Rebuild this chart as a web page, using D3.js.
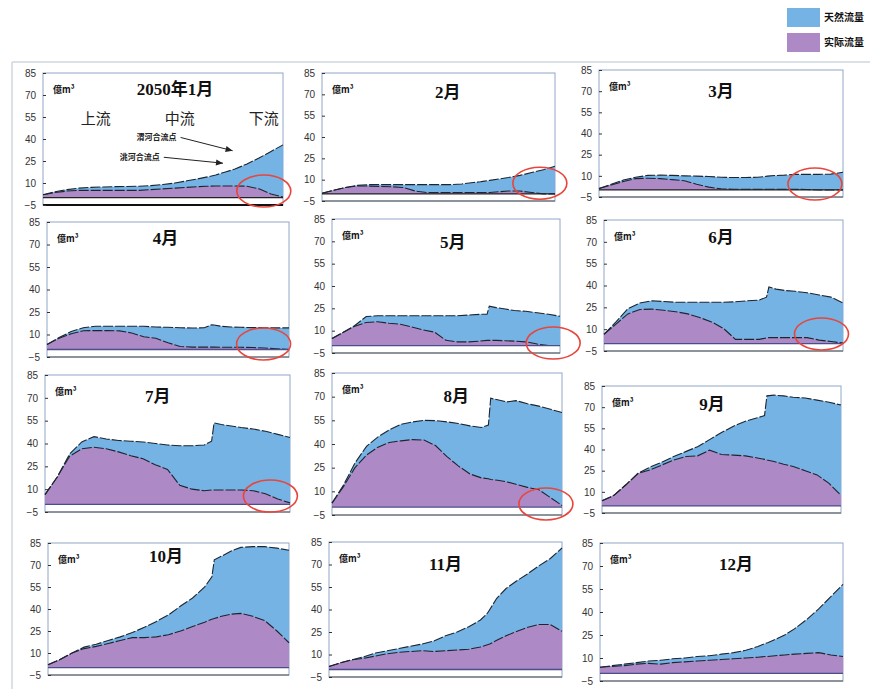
<!DOCTYPE html>
<html>
<head>
<meta charset="utf-8">
<script src="https://cdn.jsdelivr.net/npm/d3@7"></script>
<style>
  body { margin: 0; background: #fff; }
  svg { display: block; }
</style>
</head>
<body>
<div id="chart"></div>
<script>
// distance along the river (upstream -> downstream), shared by all months
const dist = [0, 5, 10, 15, 20, 25, 30, 35, 40, 45, 50, 55, 60, 65, 68, 69, 72, 76, 80, 85, 90, 95, 100];

const months = ["2050年1月", "2月", "3月", "4月", "5月", "6月", "7月", "8月", "9月", "10月", "11月", "12月"];

const yTicks = [-5, 10, 25, 40, 55, 70, 85];

const legendLabels = ["天然流量", "实际流量"];
const reachLabels = ["上流", "中流", "下流"];
const confluenceLabels = ["渭河合流点", "洮河合流点"];
const unitLabel = "億m³";

// natural flow (億m³), one row per month
const naturalFlow = [
  [2, 4, 5.5, 6.5, 7, 7.3, 7.5, 7.6, 7.8, 8.2, 9, 10, 11.5, 13, 14, 14.3, 15.5, 17.5, 19.5, 23, 27, 31.5, 36],
  [0.5, 2.5, 4.5, 6, 6.5, 6.5, 6.5, 6.5, 6.5, 6.5, 6.5, 6.5, 7, 8, 8.5, 8.8, 9.5, 10.5, 11.5, 13, 15, 17, 19.5],
  [1, 4, 7, 9, 10.3, 10.5, 10.3, 10, 9.8, 9.5, 9, 8.8, 8.8, 9, 9.5, 9.8, 10.2, 10.5, 11, 11, 11, 11.2, 12.5],
  [3.4, 8, 12, 14.5, 15.5, 15.5, 15.5, 15.5, 15.5, 15, 14.8, 14.5, 14.3, 14.5, 16.5, 16.3, 15.5, 15, 14.8, 14.6, 14.5, 14.4, 14.4],
  [4.7, 9, 13.5, 19.5, 20, 20, 20, 20, 20, 20, 20, 20, 20.5, 21, 21, 26.5, 25.5, 24.5, 23.5, 23, 22, 21, 19.7],
  [6.5, 15, 24, 28, 29.5, 29, 28.5, 28.5, 28.5, 28.5, 28.5, 28.8, 29.5, 30, 32, 39, 37.5, 36.5, 36, 35, 33.5, 32, 28],
  [6.4, 18, 33, 41, 44.5, 43, 42, 41.5, 41, 40, 39, 38.5, 38.5, 39, 41.5, 53.5, 52.5, 51.5, 50.5, 49.5, 48, 46, 44],
  [2.5, 14, 28, 38.5, 44.5, 49, 52.5, 54, 55, 54.8, 54, 53, 51.5, 50.5, 52, 69, 68, 66.7, 67.5, 65.5, 64, 62, 60],
  [3.6, 7.5, 15, 23, 27.5, 31, 35, 38.5, 42, 47, 52, 56.5, 60, 62.5, 64, 78, 78.5, 78, 77, 76.5, 75, 73.5, 71.5],
  [2, 5.5, 10, 14, 16, 18.5, 21, 24, 27.5, 31.5, 36, 42, 47.5, 55, 62, 73.5, 76, 79.5, 82, 82.5, 82.5, 81.5, 80],
  [2, 4.5, 6.5, 8.5, 11, 12.5, 14, 15.5, 17, 19, 22.5, 25, 28.5, 33, 37.5, 40, 47.5, 54, 58.5, 63.5, 69, 74, 81],
  [4, 5, 6, 7, 8, 8.5, 9.5, 10, 11, 11.5, 12.5, 13.5, 15, 17.5, 19.5, 20, 22, 25, 29, 35, 42, 50, 58]
];

// actual flow (億m³), one row per month
const actualFlow = [
  [2, 3.5, 4.5, 5, 5, 5, 5, 5, 5, 5.5, 6, 6.5, 7, 7.5, 7.8, 7.8, 8, 8, 8, 7.8, 6, 2.5, 0.5],
  [0.5, 2.5, 4.5, 5.5, 5.5, 5.2, 5, 4.5, 2, 1, 1, 1, 1, 1, 1, 1, 1, 1.5, 2, 2, 1, 0, 0],
  [1, 3.5, 6, 8, 8.3, 8, 7.3, 6.5, 4, 2, 0.8, 0.5, 0.5, 0.5, 0.5, 0.5, 0.5, 0.5, 0.5, 0.3, 0, 0, 0],
  [3.4, 7.5, 10.5, 12.5, 12.6, 12.6, 12.4, 11, 8.5, 7.5, 4.5, 2, 1.6, 1.6, 1.6, 1.6, 1.5, 1.5, 1.5, 1.3, 1, 0.5, 0],
  [4.7, 9, 13, 15.5, 16, 15, 14.3, 12.5, 10.5, 9, 3.5, 2.5, 2.5, 3, 3.5, 3.5, 3.5, 3.2, 3, 2.5, 1, 0, 0],
  [6.5, 13.5, 20.5, 23.5, 23.8, 23, 22, 20.5, 18, 15, 10.5, 3, 3, 3, 4, 4.2, 4.2, 4.2, 4.2, 4.2, 2.5, 1.5, 0.5],
  [6.4, 18, 31.5, 36.5, 37.5, 36.5, 34.5, 32, 30, 26, 23, 12.5, 10, 9, 9.5, 9.5, 9.5, 9.5, 9.5, 9, 7, 3.5, 1],
  [2.5, 13, 25, 33, 38, 41, 42, 42.8, 42.5, 39, 32, 26, 21, 18.5, 18, 17.5, 17, 16, 14.5, 12.5, 11, 6, 1],
  [3.6, 7.5, 15, 23, 25.5, 29, 32.5, 35, 35.5, 39.5, 36.5, 36, 35.5, 34, 33, 32.5, 31.5, 29.5, 28, 25, 22, 16, 7.5],
  [2, 5.5, 10, 13, 14.5, 16.5, 18.5, 20.5, 20.5, 21, 22.5, 25, 28, 31, 33, 33.5, 35, 36.5, 37, 35, 32, 25, 17],
  [2, 4.5, 6.5, 7.5, 9, 10.5, 11.5, 12, 12.5, 12, 12.5, 13, 13.5, 15, 16.5, 17, 19.5, 22.5, 25, 28, 30, 30, 25.5],
  [4, 4.5, 5, 6, 6.5, 6, 7, 7.5, 8, 8.5, 9, 9.5, 10, 10.5, 11, 11, 11.5, 12, 12.5, 13, 13.5, 12, 11]
];

// panel layout: left, right, y of 85, y of -5, title position (fraction of width), title baseline offset
const frames = [
  [43, 283, 73, 205, 0.55, 22], [322, 555, 73, 201, 0.54, 25], [599, 843, 70, 197, 0.50, 27],
  [47, 289, 222, 357, 0.49, 22], [332, 560, 219, 353, 0.53, 29], [604, 843, 220, 351, 0.49, 23],
  [45, 290, 375, 512, 0.46, 27], [332, 562, 373, 515, 0.54, 29], [602, 841, 386, 513, 0.46, 24],
  [48, 289, 543, 675, 0.49, 19], [329, 562, 542, 677, 0.50, 28], [600, 843, 543, 681, 0.56, 27]
];

// red circles marking the downstream end (dist, value) for the first 8 months
const circleAt = [[92, 4.5], [93.5, 7.5], [88.5, 4.2], [89.5, 3.7], [97, 1.7], [91, 6.7], [92, 5.5], [93, 2]];

const blue = "#74b3e3", purple = "#ad89c6";

const svg = d3.select("#chart")
  .append("svg")
    .attr("width", 879)
    .attr("height", 689);

// faint scan frame
svg.append("line").attr("x1", 12).attr("x2", 870).attr("y1", 62).attr("y2", 62)
  .attr("stroke", "#cfd8df").attr("stroke-width", 1.5);
svg.append("line").attr("x1", 12).attr("x2", 12).attr("y1", 62).attr("y2", 689)
  .attr("stroke", "#cfd8df").attr("stroke-width", 1.5);

// legend
const legend = svg.append("g").attr("transform", "translate(787,8)");
[blue, purple].forEach(function (c, i) {
  legend.append("rect")
    .attr("x", 0).attr("y", i * 25)
    .attr("width", 33).attr("height", 19)
    .attr("fill", c);
  legend.append("text")
    .attr("x", 37).attr("y", i * 25 + 13)
    .attr("font-family", "Noto Sans CJK SC")
    .attr("font-weight", "bold")
    .attr("font-size", 10)
    .attr("fill", "#111")
    .text(legendLabels[i]);
});

months.forEach(function (m, i) {
  const f = frames[i];
  const x = d3.scaleLinear().domain([0, 100]).range([f[0], f[1]]);
  const y = d3.scaleLinear().domain([-5, 85]).range([f[3], f[2]]);
  const g = svg.append("g");

  const rows = dist.map(function (d, k) {
    return {d: d, nat: naturalFlow[i][k], act: actualFlow[i][k]};
  });

  // plot background + frame
  g.append("rect")
    .attr("x", f[0]).attr("y", f[2])
    .attr("width", f[1] - f[0]).attr("height", f[3] - f[2])
    .attr("fill", "#fff")
    .attr("stroke", "#8fa8c8")
    .attr("stroke-width", 1);

  // natural flow area
  g.append("path")
    .datum(rows)
    .attr("fill", blue)
    .attr("d", d3.area()
      .x(function (r) { return x(r.d); })
      .y0(y(0))
      .y1(function (r) { return y(r.nat); }));

  // actual flow area
  g.append("path")
    .datum(rows)
    .attr("fill", purple)
    .attr("d", d3.area()
      .x(function (r) { return x(r.d); })
      .y0(y(0))
      .y1(function (r) { return y(r.act); }));

  // dark outline on the top of both areas
  ["nat", "act"].forEach(function (key) {
    g.append("path")
      .datum(rows)
      .attr("fill", "none")
      .attr("stroke", "#1d2530")
      .attr("stroke-width", 1.1)
      .attr("stroke-dasharray", "10,2")
      .attr("d", d3.line()
        .x(function (r) { return x(r.d); })
        .y(function (r) { return y(r[key]); }));
  });

  // zero line
  g.append("line")
    .attr("x1", f[0]).attr("x2", f[1])
    .attr("y1", y(0)).attr("y2", y(0))
    .attr("stroke", i < 3 ? "#222" : "#4a4f8a")
    .attr("stroke-width", 1.3);

  // bottom axis line
  g.append("line")
    .attr("x1", f[0]).attr("x2", f[1])
    .attr("y1", f[3]).attr("y2", f[3])
    .attr("stroke", i === 0 ? "#111" : "#555")
    .attr("stroke-width", i === 0 ? 2.2 : 1);

  // y axis
  const yAxis = g.append("g")
    .attr("transform", "translate(" + f[0] + ",0)")
    .call(d3.axisLeft(y).tickValues(yTicks).tickSize(-3).tickPadding(7));
  yAxis.select(".domain").remove();
  yAxis.selectAll("line").attr("stroke", "#333");
  yAxis.selectAll("text")
    .attr("font-family", "Liberation Sans")
    .attr("font-size", 10)
    .attr("fill", "#333");

  // unit
  g.append("text")
    .attr("x", f[0] + 10).attr("y", f[2] + 20)
    .attr("font-family", "Noto Sans CJK SC")
    .attr("font-weight", "bold")
    .attr("font-size", 9)
    .attr("fill", "#111")
    .text(unitLabel);

  // month title
  g.append("text")
    .attr("x", f[0] + (f[1] - f[0]) * f[4])
    .attr("y", f[2] + f[5])
    .attr("text-anchor", "middle")
    .attr("font-family", "Liberation Serif, Noto Sans CJK SC")
    .attr("font-weight", "bold")
    .attr("font-size", 17)
    .attr("fill", "#111")
    .text(m);

  // red circle
  if (i < circleAt.length) {
    g.append("ellipse")
      .attr("cx", x(circleAt[i][0]))
      .attr("cy", y(circleAt[i][1]))
      .attr("rx", 27).attr("ry", 16)
      .attr("fill", "none")
      .attr("stroke", "#e8453c")
      .attr("stroke-width", 1.6);
  }

  // January only: reach names and confluence notes
  if (i === 0) {
    const reachPos = [22, 57, 92];
    reachLabels.forEach(function (t, k) {
      g.append("text")
        .attr("x", x(reachPos[k])).attr("y", y(50))
        .attr("text-anchor", "middle")
        .attr("font-family", "Noto Sans CJK SC")
        .attr("font-size", 15)
        .attr("fill", "#222")
        .text(t);
    });
    const notes = [[39, 39, 79, 32], [32, 25.5, 75, 23.5]];
    notes.forEach(function (n, k) {
      g.append("text")
        .attr("x", x(n[0])).attr("y", y(n[1]))
        .attr("font-family", "Noto Sans CJK SC")
        .attr("font-weight", "bold")
        .attr("font-size", 8)
        .attr("fill", "#222")
        .text(confluenceLabels[k]);
      const x1 = x(n[0]) + 44, y1 = y(n[1]) - 3, x2 = x(n[2]), y2 = y(n[3]);
      g.append("line")
        .attr("x1", x1).attr("y1", y1).attr("x2", x2).attr("y2", y2)
        .attr("stroke", "#222").attr("stroke-width", 1);
      const a = Math.atan2(y2 - y1, x2 - x1);
      g.append("path")
        .attr("d", "M0,0L-7,-3L-7,3Z")
        .attr("transform", "translate(" + x2 + "," + y2 + ") rotate(" + (a * 180 / Math.PI) + ")")
        .attr("fill", "#222");
    });
  }
});
</script>
</body>
</html>
